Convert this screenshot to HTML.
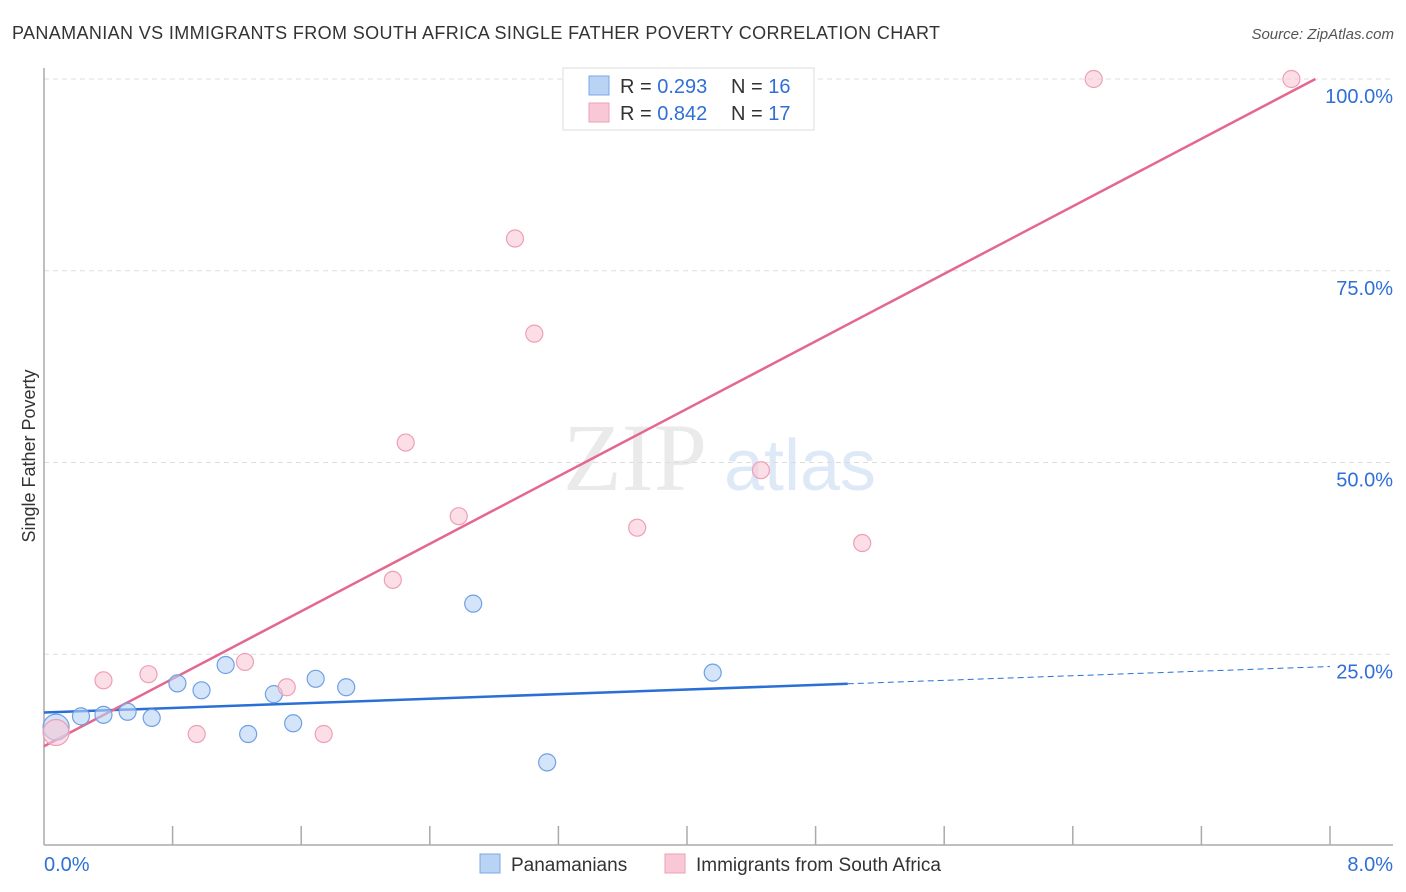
<!DOCTYPE html>
<html><head><meta charset="utf-8"><style>
body{margin:0;background:#fff;font-family:"Liberation Sans",sans-serif;}
svg{display:block}
</style></head><body>
<svg id="chart" width="1406" height="892" xmlns="http://www.w3.org/2000/svg">
<text x="12" y="39" font-size="18" fill="#333" textLength="928">PANAMANIAN VS IMMIGRANTS FROM SOUTH AFRICA SINGLE FATHER POVERTY CORRELATION CHART</text>
<text x="1394" y="39" font-size="15" fill="#555" font-style="italic" text-anchor="end">Source: ZipAtlas.com</text>
<text x="35" y="456" font-size="18" fill="#333" text-anchor="middle" transform="rotate(-90 35 456)">Single Father Poverty</text>
<g><text x="635" y="490" font-size="96" fill="#ddd" font-family="Liberation Serif,serif" text-anchor="middle" opacity="0.6">ZIP</text><text x="800" y="490" font-size="72" fill="#c9dcf3" text-anchor="middle" opacity="0.6">atlas</text></g>
<g id="grid"></g><g id="axes"></g><g id="lines"></g><g id="points"></g>
<g>
<rect x="563" y="68" width="251" height="62" fill="#fff" stroke="#ddd"/>
<rect x="589" y="76" width="20" height="19" fill="#b9d3f5" stroke="#7aa7e6"/>
<rect x="589" y="103" width="20" height="19" fill="#f9c8d6" stroke="#ee9fb6"/>
<text x="620" y="93" font-size="20" fill="#333">R = <tspan fill="#2f6fd6">0.293</tspan><tspan x="731">N = </tspan><tspan fill="#2f6fd6">16</tspan></text>
<text x="620" y="120" font-size="20" fill="#333">R = <tspan fill="#2f6fd6">0.842</tspan><tspan x="731">N = </tspan><tspan fill="#2f6fd6">17</tspan></text>
</g>
<g>
<rect x="480" y="854" width="20" height="19" fill="#b9d3f5" stroke="#7aa7e6"/>
<text x="511" y="871" font-size="19" fill="#333">Panamanians</text>
<rect x="665" y="854" width="20" height="19" fill="#f9c8d6" stroke="#ee9fb6"/>
<text x="696" y="871" font-size="19" fill="#333">Immigrants from South Africa</text>
</g>
</svg>
<script>
const yTicks=[25,50,75,100];
const yTickLabels=["25.0%","50.0%","75.0%","100.0%"];
const xTickLabels=["0.0%","8.0%"];
const blueX=[0.075,0.23,0.37,0.52,0.67,0.83,0.98,1.13,1.27,1.43,1.55,1.69,1.88,2.67,3.13,4.16];
const blueY=[15.5,16.9,17.1,17.5,16.7,21.2,20.3,23.6,14.6,19.8,16.0,21.8,20.7,31.6,10.9,22.6];
const pinkX=[0.075,0.37,0.65,0.95,1.25,1.51,1.74,2.17,2.25,2.58,2.93,3.05,3.69,4.46,5.09,6.53,7.76];
const pinkY=[14.8,21.6,22.4,14.6,24.0,20.7,14.6,34.7,52.6,43.0,79.2,66.8,41.5,49.0,39.5,100,100];
const blueFit=[17.4,0.75]; // intercept, slope
const pinkFit=[13.0,11.0];
const X=v=>44+v*160.75, Y=v=>846-v*7.67;
const NS="http://www.w3.org/2000/svg";
function mk(parent,tag,attrs){const e=document.createElementNS(NS,tag);for(const k in attrs)e.setAttribute(k,attrs[k]);document.getElementById(parent).appendChild(e);return e;}
yTicks.forEach((t,i)=>{
 const g=mk('grid','line',{x1:44,x2:1393,y1:Y(t),y2:Y(t),stroke:'#ddd','stroke-dasharray':'5,4'});
 
 
 const l=mk('grid','text',{x:1393,y:Y(t)+24,'font-size':20,fill:'#2f6fd6','text-anchor':'end'});
 l.textContent=yTickLabels[i];
 
 
});
let a=mk('axes','line',{x1:44,x2:44,y1:68,y2:845,stroke:'#aaa','stroke-width':1.5});


a=mk('axes','line',{x1:44,x2:1393,y1:845,y2:845,stroke:'#aaa','stroke-width':1.5});


for(let i=1;i<=10;i++){const t=mk('axes','line',{x1:X(i*0.8),x2:X(i*0.8),y1:826,y2:845,stroke:'#aaa','stroke-width':1.5});
 
 }
[[0,44,'start'],[8,1393,'end']].forEach((d,i)=>{const t=mk('axes','text',{x:d[1],y:871,'font-size':20,fill:'#2f6fd6','text-anchor':d[2]});t.textContent=xTickLabels[i];
 
 });
let ln=mk('lines','line',{x1:X(0),y1:Y(blueFit[0]),x2:X(5),y2:Y(blueFit[0]+blueFit[1]*5),stroke:'#2a6fd6','stroke-width':2.5});


ln=mk('lines','line',{x1:X(5),y1:Y(blueFit[0]+blueFit[1]*5),x2:X(8),y2:Y(blueFit[0]+blueFit[1]*8),stroke:'#2a6fd6','stroke-width':1,'stroke-dasharray':'6,4'});


const pe=(100-pinkFit[0])/pinkFit[1];
ln=mk('lines','line',{x1:X(0),y1:Y(pinkFit[0]),x2:X(pe),y2:Y(100),stroke:'#e4678f','stroke-width':2.5});


blueX.forEach((x,i)=>{const c=mk('points','circle',{cx:X(x),cy:Y(blueY[i]),r:i==0?13:8.5,fill:'rgba(185,211,245,0.6)',stroke:'#6fa0e4','stroke-width':1.2});
 
 });
pinkX.forEach((x,i)=>{const c=mk('points','circle',{cx:X(x),cy:Y(pinkY[i]),r:i==0?13:8.5,fill:'rgba(249,200,214,0.6)',stroke:'#ee9fb6','stroke-width':1.2});
 
 });
</script>
</body></html>
